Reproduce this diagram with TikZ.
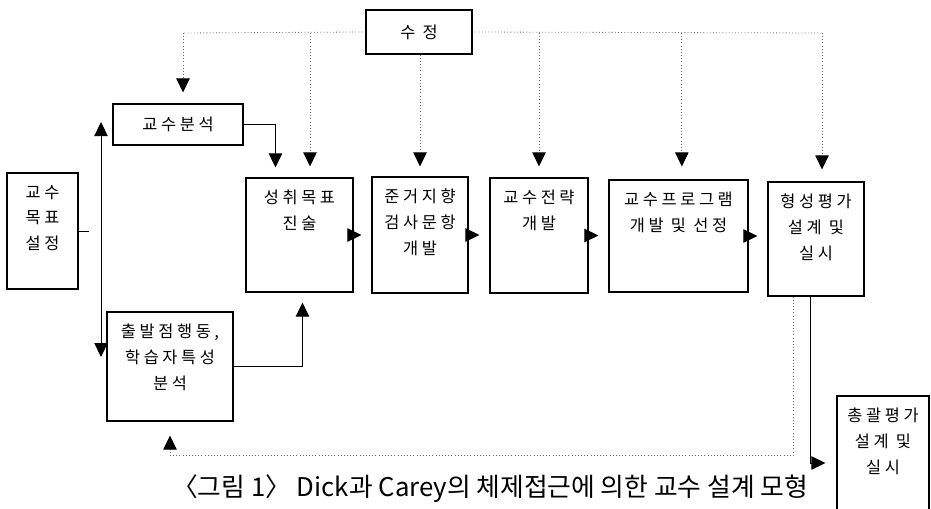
\documentclass[tikz,border=0pt]{standalone}
\usepackage{fontspec}
\usepackage{tikz}
\usetikzlibrary{arrows.meta}
\newfontfamily\kr[LetterSpace=22]{Noto Sans CJK KR}
\newfontfamily\krcap{Noto Sans CJK KR}
\newcommand{\topbox}[3]{\parbox[c][#2][t]{#1}{\centering\vspace*{0.36cm}#3}}
\tikzset{
  box/.style={draw, line width=0.9pt, inner sep=0pt, font=\kr\fontsize{14}{22}\selectfont},
  arr/.style={-{Triangle[length=0.42cm,width=0.4cm]}, line width=0.8pt},
  twoway/.style={{Triangle[length=0.42cm,width=0.4cm]}-{Triangle[length=0.42cm,width=0.4cm]}, line width=0.8pt},
  dotline/.style={dotted, line width=0.7pt, black!60},
  dotarr/.style={dotline, -{Triangle[length=0.42cm,width=0.4cm,color=black]}}
}
\begin{document}
\begin{tikzpicture}[x=0.03cm,y=-0.03cm]
  \useasboundingbox (0,0) rectangle (931,509);
  \node[box, minimum width=3.18cm, minimum height=1.32cm] (sj) at (419,32) {수 정};
  \node[box, minimum width=3.9cm, minimum height=1.23cm] (bs) at (178,124.5) {교수분석};
  \node[box] (mp) at (42.5,231) {\topbox{2.13cm}{3.48cm}{교수\\목표\\설정}};
  \node[box] (sc) at (299.5,235) {\topbox{3.21cm}{3.42cm}{성취목표\\진술}};
  \node[box] (jg) at (420,235) {\topbox{2.88cm}{3.48cm}{준거지향\\검사문항\\개발}};
  \node[box] (jr) at (539,235.5) {\topbox{2.94cm}{3.45cm}{교수전략\\개발}};
  \node[box] (pg) at (678.5,236) {\topbox{4.17cm}{3.36cm}{교수프로그램\\개발 및 선정}};
  \node[box] (hp) at (816,239) {\topbox{2.88cm}{3.42cm}{형성평가\\설계 및\\실시}};
  \node[box] (cb) at (170,366.5) {\topbox{3.78cm}{3.27cm}{출발점행동,\\학습자특성\\분석}};
  \node[box] (cg) at (883,463) {\topbox{2.76cm}{4.02cm}{총괄평가\\설계 및\\실시}};
  \node[font=\krcap\fontsize{22}{26}\selectfont] (cap) at (490,489) {〈그림 1〉 Dick과 Carey의 체제접근에 의한 교수 설계 모형};

  \coordinate (stub) at (89,231);
  \coordinate (up) at (101,122);
  \coordinate (dn) at (101,357);
  \coordinate (fbL) at (183,33);
  \coordinate (fbR) at (822,33);

  \draw[line width=0.8pt] (mp.east) -- (stub);
  \draw[twoway] (up) -- (dn);
  \draw[arr] (bs.east) -| ([xshift=0.9cm,yshift=0.3cm]sc.north west);
  \draw[arr] (cb.east) -| ([xshift=1.71cm,yshift=-0.3cm]sc.south west);
  \draw[arr, shorten >=0.3cm] (sc.east) -- (sc.east -| jg.west);
  \draw[arr, shorten >=0.3cm] (jg.east) -- (jg.east -| jr.west);
  \draw[arr, shorten >=0.3cm] (jr.east) -- (jr.east -| pg.west);
  \draw[arr, shorten >=0.3cm] (pg.east) -- (pg.east -| hp.west);
  \draw[arr] ([xshift=-0.18cm]hp.south) |- ([xshift=-0.33cm]cg.west);

  \draw[dotline] (sj.west) -- (fbL);
  \draw[dotline] (sj.east) -- (fbR);
  \draw[dotarr] (fbL) -- ([yshift=0.33cm]bs.north -| fbL);
  \draw[dotarr] ([xshift=0.315cm]sc.north |- fbL) -- ([xshift=0.315cm,yshift=0.33cm]sc.north);
  \draw[dotarr] (jg.north |- sj.south) -- ([yshift=0.3cm]jg.north);
  \draw[dotarr] (jr.north |- fbR) -- ([yshift=0.33cm]jr.north);
  \draw[dotarr] ([xshift=0.1cm]pg.north |- fbR) -- ([xshift=0.1cm,yshift=0.39cm]pg.north);
  \draw[dotarr] (fbR) -- ([xshift=0.18cm,yshift=0.36cm]hp.north);
  \draw[dotarr] ([xshift=-0.69cm]hp.south) |- ([yshift=-1.02cm]cb.south) -- ([yshift=-0.42cm]cb.south);
\end{tikzpicture}
\end{document}
